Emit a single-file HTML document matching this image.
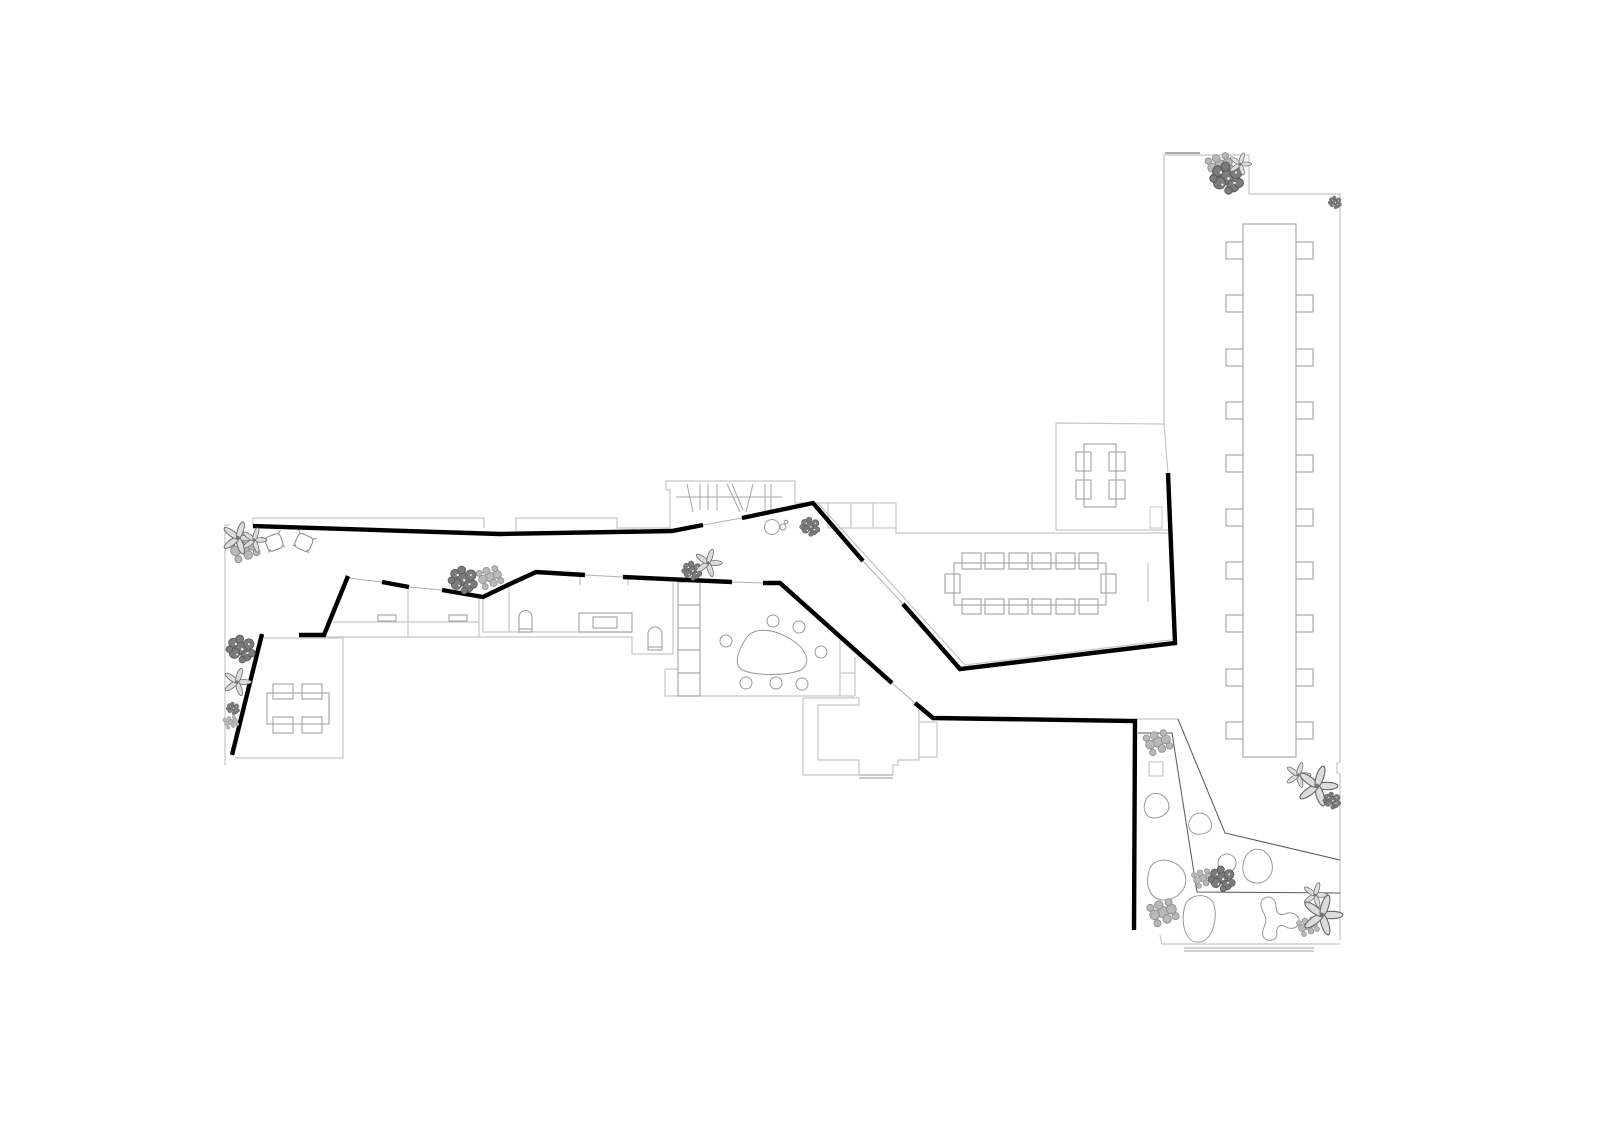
<!DOCTYPE html>
<html><head><meta charset="utf-8"><style>
html,body{margin:0;padding:0;background:#fff;}
svg{display:block;}
</style></head><body>
<svg width="1600" height="1130" viewBox="0 0 1600 1130" xmlns="http://www.w3.org/2000/svg">
<defs>
<symbol id="bush" viewBox="-12 -12 24 24" overflow="visible">
<g fill="#7c7c7c" stroke="#555" stroke-width="0.6">
<circle cx="0" cy="0" r="5"/><circle cx="6" cy="-3" r="4"/><circle cx="-5" cy="4" r="4"/>
<circle cx="4" cy="6" r="4"/><circle cx="-6" cy="-4" r="3.5"/><circle cx="8" cy="4" r="3"/>
<circle cx="-1" cy="-7" r="3"/><circle cx="-9" cy="1" r="2.5"/><circle cx="1" cy="9" r="2.5"/>
</g>
<g fill="#fff"><circle cx="1" cy="1" r="0.9"/><circle cx="-4" cy="-3" r="0.8"/><circle cx="5" cy="4" r="0.8"/><circle cx="-3" cy="5" r="0.7"/><circle cx="6" cy="-3" r="0.7"/></g>
</symbol>
<symbol id="flower" viewBox="-12 -12 24 24" overflow="visible">
<g fill="#dcdcdc" stroke="#666" stroke-width="0.7">
<ellipse cx="6" cy="0" rx="7" ry="2.3"/>
<ellipse cx="6" cy="0" rx="7" ry="2.3" transform="rotate(72)"/>
<ellipse cx="6" cy="0" rx="7" ry="2.3" transform="rotate(144)"/>
<ellipse cx="6" cy="0" rx="7" ry="2.3" transform="rotate(216)"/>
<ellipse cx="6" cy="0" rx="7" ry="2.3" transform="rotate(288)"/>
</g>
<circle cx="0" cy="0" r="1.5" fill="#777"/>
</symbol>
<symbol id="lbush" viewBox="-12 -12 24 24" overflow="visible">
<g fill="#b8b8b8" stroke="#8a8a8a" stroke-width="0.6">
<circle cx="0" cy="0" r="4"/><circle cx="6" cy="-2" r="3.5"/><circle cx="-6" cy="2" r="3.5"/>
<circle cx="3" cy="5" r="3"/><circle cx="-3" cy="-5" r="3"/><circle cx="9" cy="3" r="2.5"/><circle cx="-9" cy="-3" r="2.5"/>
<circle cx="4" cy="-7" r="2.5"/><circle cx="-4" cy="8" r="2.5"/>
</g>
</symbol>
</defs>

<!-- light outlines -->
<g fill="none" stroke="#c6c6c6" stroke-width="1.2">
<path d="M230,525 L225,525 L225,765"/>
<path d="M253,526 L253,518 L484,518 L484,528"/>
<path d="M516,531 L516,518 L617,518 L617,528 L670,528"/>
<path d="M666,490 L666,481 L795,481 L795,503 L828,503"/>
<path d="M666,490 L670,490 L670,528"/>
<rect x="828" y="503" width="68" height="25"/>
<path d="M851,503 L851,528 M873,503 L873,528"/>
<path d="M896,528 L896,533 L1168,533 M1056,530 L1168,530"/>
<path d="M1056,530 L1056,423 L1164,424 L1168,473"/>
<path d="M1164,424 L1164,155 L1249,155 L1249,194 L1340,194 L1340,762 L1337,763 L1337,773 L1340,774 L1340,940"/>
<path d="M1160,935 L1162,944 L1340,944"/>
<path d="M1184,948 L1314,948 M1184,951 L1314,951" stroke="#b5b5b5"/>
<path d="M1165,153 L1200,153" stroke="#aaa" stroke-width="2"/>
<path d="M1135,719 L1178,719"/>
<path d="M817,502 L965,665 L1171,640"/>
<path d="M263,638 L343,638 L343,758 L235,758"/>
<path d="M325,637 L632,637 L632,654 L673,654"/>
<path d="M333,622 L478,622"/>
<path d="M408,588 L408,637 M479,598 L479,637 M483,597 L483,632 L632,632"/>
<path d="M509,587 L509,632"/>
<path d="M673,582 L673,654"/>
<path d="M665,669 L678,669 M665,669 L665,696 L855,696"/>
<path d="M840,640 L840,696 M855,657 L855,696 M840,673 L855,673"/>
<path d="M803,698 L803,775 L859,775 M803,698 L859,698 L859,705 L818,705 L818,760 L859,760 L859,775"/>
<path d="M859,775 L893,775 M859,778 L893,778" stroke="#aaa"/>
<path d="M893,775 L893,765 L898,765 L898,760 L919,760 L919,708"/>
<path d="M919,722 L937,722 L937,757 L919,757"/>
<path d="M1148,563 L1148,602"/>
</g>

<!-- thin gap lines -->
<g fill="none" stroke="#b0b0b0" stroke-width="1">
<path d="M703,525 L742,518"/>
<path d="M863,561 L903,604"/>
<path d="M348,578 L382,582"/>
<path d="M409,587 L442,590"/>
<path d="M585,575 L623,577"/>
<path d="M732,582 L763,583"/>
<path d="M892,683 L915,703"/>
<path d="M580,577 L580,585 M628,577 L628,585"/>
</g>

<!-- stairs -->
<g fill="none" stroke="#a5a5a5" stroke-width="1">
<path d="M676,497 L782,497"/>
<path d="M687,484 L693,512 M700,484 L700,510 M708,484 L708,510 M717,484 L717,510 M727,484 L740,512 M732,484 L743,510 M753,484 L746,512 M765,484 L765,510 M771,484 L771,510"/>
</g>

<!-- garden dark lines -->
<g fill="none" stroke="#555" stroke-width="1">
<path d="M1178,719 L1225,833 L1340,860"/>
<path d="M1138,733 L1172,733 L1197,892 L1340,893"/>
</g>

<!-- furniture -->
<g fill="none" stroke="#999" stroke-width="1">
<rect x="1243" y="224" width="53" height="533"/>
<g>
<rect x="1226" y="242" width="17" height="17"/><rect x="1296" y="242" width="17" height="17"/>
<rect x="1226" y="295" width="17" height="17"/><rect x="1296" y="295" width="17" height="17"/>
<rect x="1226" y="349" width="17" height="17"/><rect x="1296" y="349" width="17" height="17"/>
<rect x="1226" y="402" width="17" height="17"/><rect x="1296" y="402" width="17" height="17"/>
<rect x="1226" y="455" width="17" height="17"/><rect x="1296" y="455" width="17" height="17"/>
<rect x="1226" y="509" width="17" height="17"/><rect x="1296" y="509" width="17" height="17"/>
<rect x="1226" y="562" width="17" height="17"/><rect x="1296" y="562" width="17" height="17"/>
<rect x="1226" y="615" width="17" height="17"/><rect x="1296" y="615" width="17" height="17"/>
<rect x="1226" y="669" width="17" height="17"/><rect x="1296" y="669" width="17" height="17"/>
<rect x="1226" y="722" width="17" height="17"/><rect x="1296" y="722" width="17" height="17"/>
</g>
<rect x="954" y="563" width="152" height="42"/>
<rect x="962" y="553" width="19" height="16"/><rect x="985" y="553" width="19" height="16"/><rect x="1009" y="553" width="19" height="16"/>
<rect x="1032" y="553" width="19" height="16"/><rect x="1056" y="553" width="19" height="16"/><rect x="1079" y="553" width="19" height="16"/>
<rect x="962" y="599" width="19" height="15"/><rect x="985" y="599" width="19" height="15"/><rect x="1009" y="599" width="19" height="15"/>
<rect x="1032" y="599" width="19" height="15"/><rect x="1056" y="599" width="19" height="15"/><rect x="1079" y="599" width="19" height="15"/>
<rect x="945" y="574" width="15" height="19"/><rect x="1101" y="574" width="15" height="19"/>
<rect x="1084" y="444" width="32" height="63"/>
<rect x="1076" y="452" width="15" height="19"/><rect x="1109" y="452" width="16" height="19"/>
<rect x="1076" y="480" width="15" height="19"/><rect x="1109" y="480" width="16" height="19"/>
<rect x="1150" y="507" width="12" height="21" stroke="#c8c8c8"/>
<rect x="267" y="693" width="62" height="31"/>
<rect x="273" y="684" width="20" height="15"/><rect x="302" y="684" width="20" height="15"/>
<rect x="273" y="717" width="20" height="16"/><rect x="302" y="717" width="20" height="16"/>
<rect x="378" y="615" width="18" height="6"/><rect x="449" y="615" width="18" height="6"/>
<rect x="579" y="613" width="53" height="19"/><rect x="593" y="617" width="24" height="11"/>
<path d="M519,632 L519,617 A6.5,6.5 0 0 1 532,617 L532,632 Z M519,629 L532,629"/>
<path d="M648,650 L648,634 A7,7 0 0 1 662,634 L662,650 Z M648,647 L662,647"/>
<rect x="678" y="582" width="22" height="114"/>
<path d="M678,605 L700,605 M678,628 L700,628 M678,650 L700,650 M678,673 L700,673"/>
<path d="M745,640 C752,627 772,627 792,640 C806,649 812,662 801,670 C786,676 756,676 742,670 C733,664 739,650 745,640 Z"/>
<circle cx="773" cy="621" r="6"/><circle cx="799" cy="627" r="6"/><circle cx="821" cy="652" r="6"/>
<circle cx="726" cy="641" r="6"/><circle cx="746" cy="683" r="6"/><circle cx="776" cy="683" r="6"/><circle cx="802" cy="684" r="6"/>
<circle cx="772" cy="527" r="7.5"/><circle cx="783" cy="527" r="3"/><circle cx="786" cy="522" r="1.8"/>
<rect x="1149" y="762" width="14" height="14" stroke="#bbb"/>
<path d="M1146,800 C1150,790 1164,792 1168,802 C1172,812 1162,818 1154,818 C1145,818 1142,808 1146,800 Z"/>
<path d="M1191,818 C1196,810 1208,812 1211,822 C1214,832 1204,835 1196,834 C1188,832 1187,824 1191,818 Z"/>
<path d="M1150,868 C1156,856 1176,858 1184,872 C1190,885 1180,900 1164,900 C1150,900 1144,885 1150,868 Z"/>
<circle cx="1227" cy="863" r="9"/>
<path d="M1245,858 C1250,846 1266,846 1271,860 C1276,874 1266,884 1256,883 C1244,882 1240,870 1245,858 Z"/>
<path d="M1185,905 C1190,893 1210,892 1214,905 C1218,920 1212,940 1200,942 C1186,944 1180,925 1185,905 Z"/>
<path d="M1262,900 C1268,894 1276,898 1276,906 C1276,912 1279,916 1285,914 C1292,911 1300,915 1299,922 C1298,929 1290,930 1284,926 C1279,924 1276,928 1277,934 C1277,941 1268,942 1264,938 C1260,932 1266,925 1266,920 C1266,915 1258,906 1262,900 Z"/>
</g>

<!-- armchairs -->
<g fill="none" stroke="#888" stroke-width="1">
<g transform="translate(274,542) rotate(-20)">
<rect x="-8" y="-7" width="16" height="15" rx="4"/><path d="M-10,-9 L-7,-6 M10,-9 L7,-6 M-9,8 L-6,6 M9,8 L6,6"/>
</g>
<g transform="translate(304,542) rotate(25)">
<rect x="-8" y="-7" width="16" height="15" rx="4"/><path d="M-10,-9 L-7,-6 M10,-9 L7,-6 M-9,8 L-6,6 M9,8 L6,6"/>
</g>
</g>

<!-- thick walls -->
<g fill="none" stroke="#000" stroke-width="4.4" stroke-linejoin="miter" stroke-linecap="butt">
<path d="M253,526 L500,534 L672,531 L703,525"/>
<path d="M742,518 L813,503 L863,561"/>
<path d="M903,604 L960,669 L1175,643 L1168,473"/>
<path d="M348,576 L324,635 L299,635"/>
<path d="M262,634 L232,755"/>
<path d="M382,582 L409,587"/>
<path d="M442,590 L483,597 L510,584 L536,572 L585,575"/>
<path d="M623,577 L732,582"/>
<path d="M763,583 L780,583 L892,683"/>
<path d="M915,703 L933,718 L1135,721 L1134,930"/>
</g>

<!-- plants -->
<use href="#lbush" x="-12" y="-12" width="24" height="24" transform="translate(244,548) scale(1.4)"/>
<use href="#flower" x="-12" y="-12" width="24" height="24" transform="translate(238,538) scale(1.3)"/>
<use href="#flower" x="-12" y="-12" width="24" height="24" transform="translate(254,540) scale(1.0)"/>
<use href="#bush" x="-12" y="-12" width="24" height="24" transform="translate(463,579) scale(1.3)"/>
<use href="#lbush" x="-12" y="-12" width="24" height="24" transform="translate(490,577) scale(1.2)"/>
<use href="#bush" x="-12" y="-12" width="24" height="24" transform="translate(692,570) scale(0.9)"/>
<use href="#flower" x="-12" y="-12" width="24" height="24" transform="translate(708,563) scale(1.1)"/>
<use href="#bush" x="-12" y="-12" width="24" height="24" transform="translate(810,526) scale(0.9)"/>
<use href="#lbush" x="-12" y="-12" width="24" height="24" transform="translate(1220,165) scale(1.3)"/>
<use href="#bush" x="-12" y="-12" width="24" height="24" transform="translate(1227,177) scale(1.5)"/>
<use href="#flower" x="-12" y="-12" width="24" height="24" transform="translate(1240,164) scale(0.9)"/>
<use href="#bush" x="-12" y="-12" width="24" height="24" transform="translate(1335,202) scale(0.6)"/>
<use href="#bush" x="-12" y="-12" width="24" height="24" transform="translate(241,648) scale(1.3)"/>
<use href="#flower" x="-12" y="-12" width="24" height="24" transform="translate(237,682) scale(1.1)"/>
<use href="#bush" x="-12" y="-12" width="24" height="24" transform="translate(233,708) scale(0.6)"/>
<use href="#lbush" x="-12" y="-12" width="24" height="24" transform="translate(231,722) scale(0.7)"/>
<use href="#lbush" x="-12" y="-12" width="24" height="24" transform="translate(1158,742) scale(1.3)"/>
<use href="#flower" x="-12" y="-12" width="24" height="24" transform="translate(1298,775) scale(1.0)"/>
<use href="#flower" x="-12" y="-12" width="24" height="24" transform="translate(1317,786) scale(1.6)"/>
<use href="#bush" x="-12" y="-12" width="24" height="24" transform="translate(1332,800) scale(0.8)"/>
<use href="#lbush" x="-12" y="-12" width="24" height="24" transform="translate(1203,878) scale(1.0)"/>
<use href="#bush" x="-12" y="-12" width="24" height="24" transform="translate(1222,878) scale(1.2)"/>
<use href="#lbush" x="-12" y="-12" width="24" height="24" transform="translate(1163,912) scale(1.4)"/>
<use href="#flower" x="-12" y="-12" width="24" height="24" transform="translate(1315,895) scale(1.0)"/>
<use href="#lbush" x="-12" y="-12" width="24" height="24" transform="translate(1308,926) scale(1.0)"/>
<use href="#flower" x="-12" y="-12" width="24" height="24" transform="translate(1322,915) scale(1.6)"/>
</svg>
</body></html>
